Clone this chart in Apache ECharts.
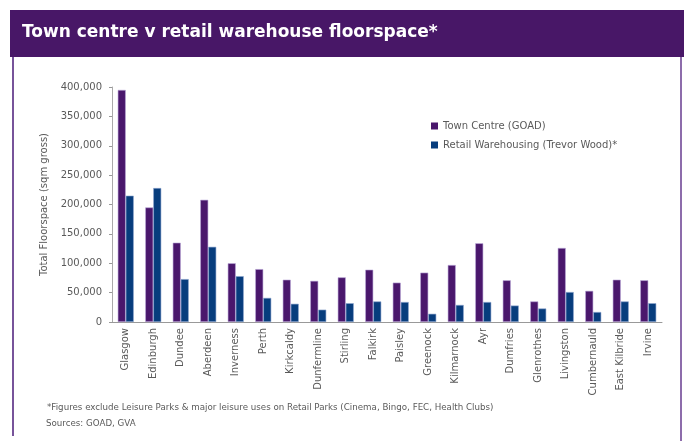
<!DOCTYPE html>
<html>
<head>
<meta charset="utf-8">
<script src="https://cdn.jsdelivr.net/npm/echarts@6/dist/echarts.min.js"></script>
<style>
  html, body { margin: 0; padding: 0; background: #fff; }
  #chart { width: 684px; height: 441px; }
</style>
</head>
<body>
<div id="chart"></div>
<script>
  // data
  var towns = ['Glasgow', 'Edinburgh', 'Dundee', 'Aberdeen', 'Inverness', 'Perth', 'Kirkcaldy',
    'Dunfermline', 'Stirling', 'Falkirk', 'Paisley', 'Greenock', 'Kilmarnock', 'Ayr', 'Dumfries',
    'Glenrothes', 'Livingston', 'Cumbernauld', 'East Kilbride', 'Irvine']
  var townCentre = [395000, 195000, 135000, 208000, 100000, 90000, 72000, 70000, 76000, 89000,
    67000, 84000, 97000, 134000, 71000, 35000, 126000, 53000, 72000, 71000]
  var retailWarehousing = [215000, 228000, 73000, 128000, 78000, 41000, 31000, 21000, 32000, 35000,
    34000, 14000, 29000, 34000, 28000, 23000, 51000, 17000, 35000, 32000]
  var seriesNames = ['Town Centre (GOAD)', 'Retail Warehousing (Trevor Wood)*']

  var font = 'DejaVu Sans'
  var grey = '#5a5a5a'

  var myChart = echarts.init(document.getElementById('chart'))
  var option = {
    backgroundColor: '#fff',
    color: ['#4a176c', '#073d7d'],
    textStyle: { fontFamily: font },
    animation: false,
    graphic: [
      { type: 'rect', shape: { x: 10, y: 10, width: 674, height: 47 }, style: { fill: '#481767' } },
      { type: 'line', shape: { x1: 13, y1: 57, x2: 13, y2: 436 }, style: { stroke: '#4a1a78', lineWidth: 1.5 } },
      { type: 'line', shape: { x1: 681, y1: 57, x2: 681, y2: 441 }, style: { stroke: '#8d6cab', lineWidth: 2 } },
      { type: 'text', left: 22, top: 24, style: { text: 'Town centre v retail warehouse floorspace*', fill: '#fff', font: 'bold 17px "DejaVu Sans"' } },
      { type: 'text', left: 47, top: 403, style: { text: '*Figures exclude Leisure Parks & major leisure uses on Retail Parks (Cinema, Bingo, FEC, Health Clubs)', fill: grey, font: '8.7px "DejaVu Sans"' } },
      { type: 'text', left: 46, top: 419, style: { text: 'Sources: GOAD, GVA', fill: grey, font: '8.7px "DejaVu Sans"' } }
    ],
    legend: {
      orient: 'vertical',
      left: 426,
      top: 116,
      itemWidth: 7,
      itemHeight: 7,
      itemGap: 9,
      icon: 'rect',
      itemStyle: { borderWidth: 0 },
      textStyle: { color: grey, fontSize: 10, fontFamily: font }
    },
    grid: { left: 112, right: 22, top: 87, bottom: 119 },
    xAxis: {
      type: 'category',
      data: towns,
      axisLine: { lineStyle: { color: '#999' } },
      axisTick: { lineStyle: { color: '#999' }, length: 4 },
      axisLabel: { rotate: 90, color: grey, fontSize: 10, margin: 6, interval: 0 }
    },
    yAxis: {
      type: 'value',
      min: 0,
      max: 400000,
      interval: 50000,
      name: 'Total Floorspace (sqm gross)',
      nameLocation: 'middle',
      nameGap: 63,
      nameTextStyle: { color: grey, fontSize: 10 },
      axisLine: { show: true, lineStyle: { color: '#aaa' } },
      axisTick: { show: true, length: 3, lineStyle: { color: '#999' } },
      splitLine: { show: false },
      axisLabel: {
        color: grey,
        fontSize: 10,
        margin: 10,
        formatter: function (v) { return v.toLocaleString('en-GB') }
      }
    },
    series: [
      {
        name: seriesNames[0], type: 'bar', data: townCentre,
        barWidth: 8, barGap: '0%',
        itemStyle: { borderColor: '#b9a6d6', borderWidth: 0.6 }
      },
      {
        name: seriesNames[1], type: 'bar', data: retailWarehousing,
        barWidth: 8,
        itemStyle: { borderColor: '#8fa6d0', borderWidth: 0.6 }
      }
    ]
  }
  myChart.setOption(option)
  window.addEventListener('resize', function () { myChart.resize() })
</script>
</body>
</html>
